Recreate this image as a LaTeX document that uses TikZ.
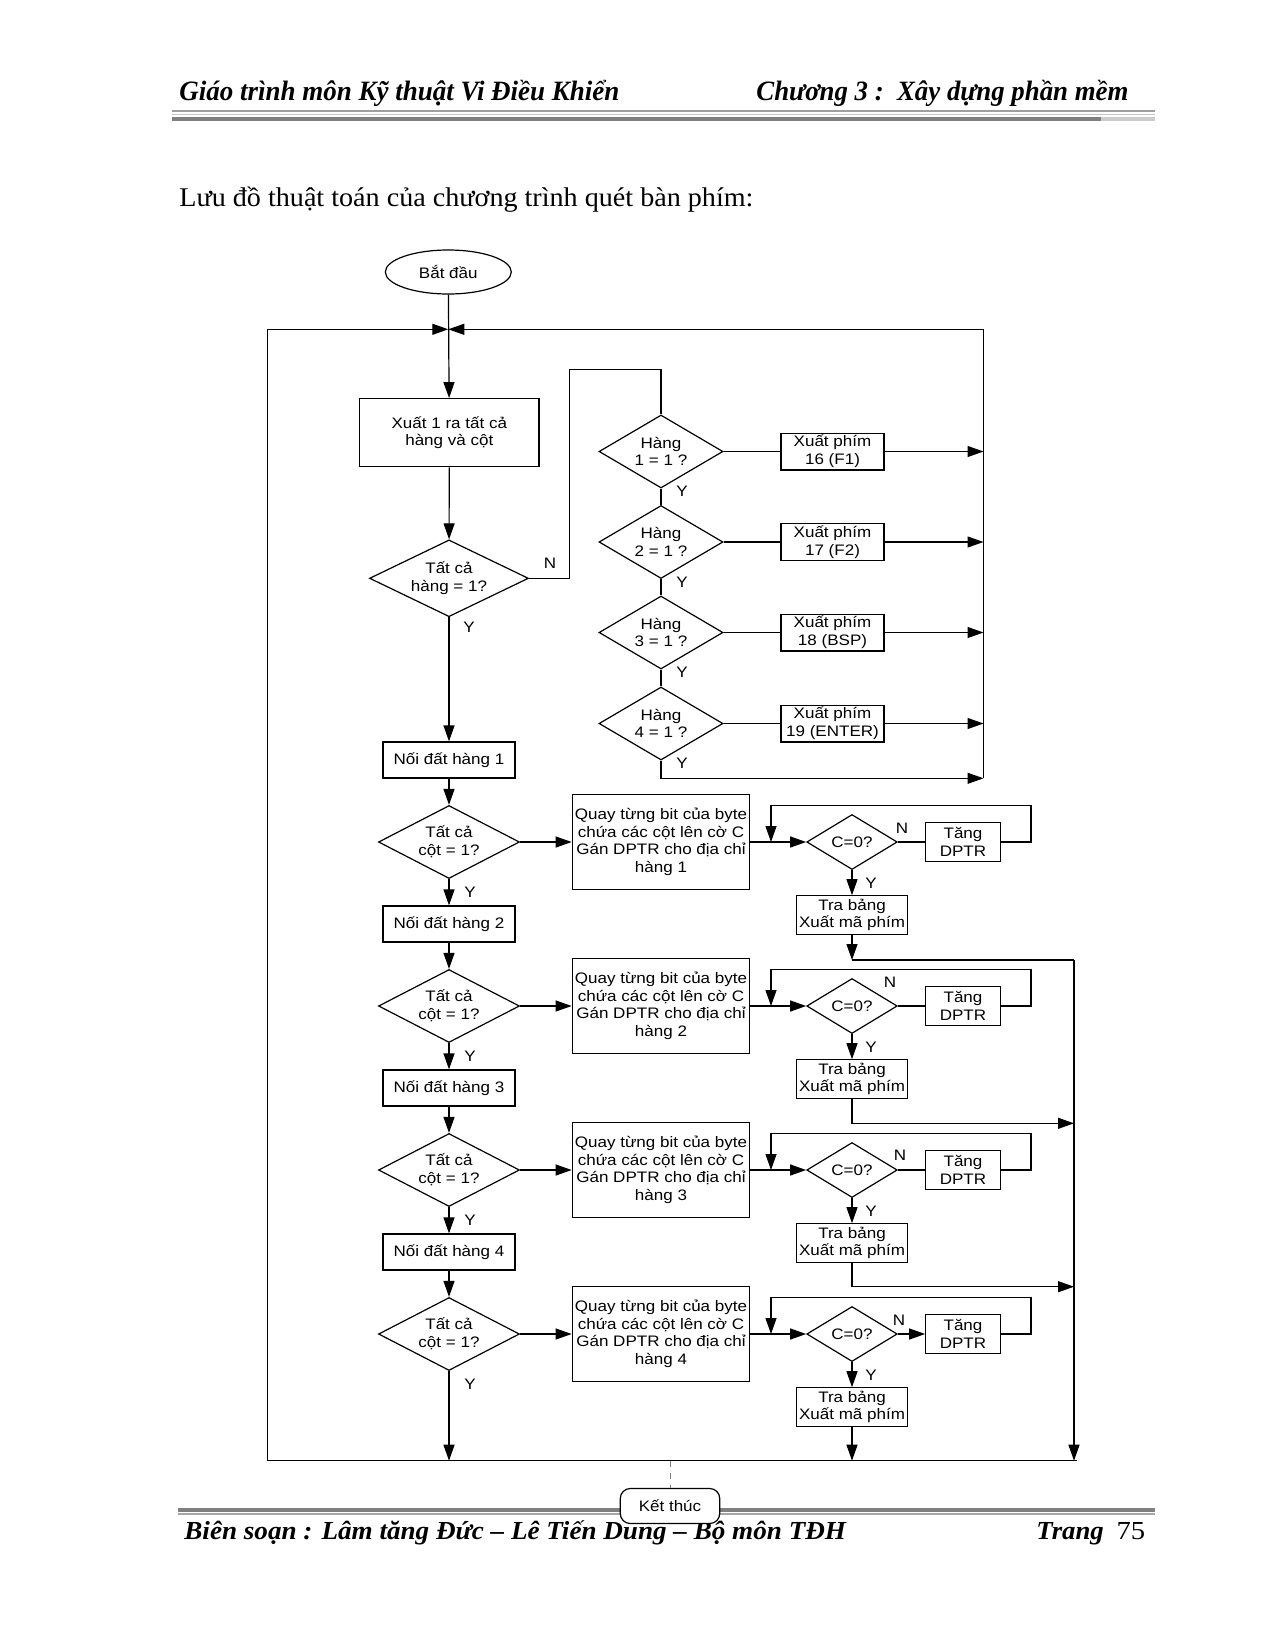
\documentclass[tikz,border=0pt]{standalone}
\usepackage{fontspec}
\usepackage{graphicx}
\usetikzlibrary{shapes.geometric,arrows.meta}
\setmainfont{Liberation Serif}
\newfontfamily\dfont{Liberation Sans}[FakeStretch=1.12]
\tikzset{
  ln/.style={line width=0.6pt},
  arr/.style={ln,-{Triangle[length=8pt,width=5.5pt]}},
  dfnt/.style={font=\dfont\fontsize{7.6}{8.8}\selectfont},
  box/.style={draw,ln,rectangle,inner sep=0pt,align=center,dfnt,fill=white},
  dia/.style={draw,ln,diamond,inner sep=0pt,align=center,dfnt},
  lab/.style={inner sep=0pt,dfnt}
}
\begin{document}
\begin{tikzpicture}[x=0.5pt,y=-0.5pt]
\useasboundingbox (0,0) rectangle (1274,1649);
% header
\node[anchor=base west,inner sep=0pt] (h1txt) at (179,100.7) {\resizebox{220pt}{\height}{\fontsize{14}{16}\selectfont\bfseries\itshape Giáo trình môn Kỹ thuật Vi Điều Khiển}};
\node[anchor=base west,inner sep=0pt] (h2txt) at (756,100.7) {\resizebox{186pt}{\height}{\fontsize{14}{16}\selectfont\bfseries\itshape Chương 3 :\ \ Xây dựng phần mềm}};
\fill[gray!75] (171.5,110.2) rectangle (1155,111.8);
\fill[gray!45] (171.5,114) rectangle (1155,115.4);
\fill[gray] (171.5,116.7) rectangle (1100.7,120.7);
\fill[gray!40] (1100.7,116.7) rectangle (1155,120.7);
\node[anchor=base west,inner sep=0pt] (intro) at (179,206) {\resizebox{287pt}{\height}{\fontsize{13.5}{15}\selectfont Lưu đồ thuật toán của chương trình quét bàn phím:}};
% footer
\fill[gray] (177.9,1507.7) rectangle (1155,1511.7);
\fill[gray!70] (177.9,1513.3) rectangle (1155,1514.7);
\node[anchor=base west,inner sep=0pt] (ftxt) at (184,1539.5) {\resizebox{330.8pt}{\height}{\fontsize{13}{15}\selectfont\bfseries\itshape Biên soạn : Lâm tăng Đức – Lê Tiến Dung – Bộ môn TĐH}};
\node[anchor=base west,inner sep=0pt] (trang) at (1036,1539.5) {\resizebox{33.7pt}{\height}{\fontsize{13}{15}\selectfont\bfseries\itshape Trang}};
\node[anchor=base east,inner sep=0pt] (pg) at (1145.6,1539.5) {\resizebox{14.3pt}{\height}{\fontsize{13}{15}\selectfont 75}};

% top part
\node[draw,ln,ellipse,minimum width=63pt,minimum height=22pt,inner sep=0pt,dfnt] (start) at (448.3,272) {Bắt đầu};
\coordinate (J) at (448.3,329.3);
\coordinate (tlc) at (267.7,329.3);
\coordinate (blc) at (267.7,1460.7);
\coordinate (brc) at (1077,1460.7);
\coordinate (r1t) at (983.5,329.3);
\coordinate (r1b) at (983.5,778.3);
\coordinate (rt) at (1074,960);
\coordinate (rb) at (1074,1460.7);
\coordinate (nA) at (569.6,369.3);

\node[box,minimum width=89.7pt,minimum height=34pt] (b1) at (449.3,432.7) {Xuất 1 ra tất cả\\hàng và cột};
\node[dia,aspect=2.07,minimum width=79.5pt,minimum height=38.4pt] (d1) at (449,578.3) {Tất cả\\hàng = 1?};
\draw[arr] (start) -- (b1);
\draw[arr] (b1) -- (d1);
\node[lab] (nlab) at (550,563) {N};
\node[lab] (ylab) at (469,627) {Y};

\foreach \r/\y/\t in {1/451.5/16 (F1),2/542/17 (F2),3/632.5/18 (BSP),4/723.5/19 (ENTER)}{
  \node[dia,aspect=1.7,minimum width=62pt,minimum height=36.5pt] (h\r) at (661,\y) {Hàng\\\r{} = 1 ?};
  \node[box,minimum width=51.5pt,minimum height=18.4pt] (x\r) at (832.5,\y) {Xuất phím\\\t};
  \draw[ln] (h\r) -- (x\r);
  \draw[arr] (x\r.east) -- (x\r.east -| r1t);
  \node[lab] at (682,\y+40) {Y};
}
\draw[ln] (h1) -- (h2);
\draw[ln] (h2) -- (h3);
\draw[ln] (h3) -- (h4);
\draw[ln] (d1.east) -| (nA) -| (h1.north);
\draw[arr] (h4.south) |- (r1b);
\draw[arr] (r1b) -- (r1t) -- (J);

% rows
\foreach \r/\y in {1/842,2/1006,3/1170,4/1334}{
  \node[box,minimum width=66pt,minimum height=18pt] (nd\r) at (449,\y-82) {Nối đất hàng \r};
  \node[dia,aspect=1.93,minimum width=70.5pt,minimum height=36.5pt] (c\r) at (449,\y) {Tất cả\\cột = 1?};
  \node[box,minimum width=88.75pt,minimum height=47.5pt] (q\r) at (661,\y) {Quay từng bit của byte\\chứa các cột lên cờ C\\Gán DPTR cho địa chỉ\\hàng \r};
  \node[dia,aspect=1.65,minimum width=45.25pt,minimum height=27.5pt] (z\r) at (852,\y) {C=0?};
  \node[box,minimum width=37.25pt,minimum height=19.2pt] (t\r) at (963,\y) {Tăng\\DPTR};
  \node[box,minimum width=55.5pt,minimum height=19.2pt] (m\r) at (852,\y+73) {Tra bảng\\Xuất mã phím};
  \coordinate (j\r) at (771,\y);
  \coordinate (lt\r) at (1031,\y-36.5);
  \draw[arr] (nd\r) -- (c\r);
  \draw[arr] (c\r) -- (q\r);
  \draw[arr] (q\r) -- (z\r);
  \draw[arr] (z\r) -- (m\r);
  \draw[arr] (t\r.east) -| (lt\r) -| (j\r);
  \node[lab] at (470,\y+50) {Y};
  \node[lab] at (871,\y+41) {Y};
}
\draw[arr] (d1) -- (nd1);
\draw[arr] (c1) -- (nd2);
\draw[arr] (c2) -- (nd3);
\draw[arr] (c3) -- (nd4);
\draw[ln] (z1) -- (t1);
\draw[ln] (z2) -- (t2);
\draw[ln] (z3) -- (t3);
\draw[arr] (z4) -- (t4);
\node[lab] at (902,828) {N};
\node[lab] at (890,982) {N};
\node[lab] at (900,1155) {N};
\node[lab] at (899,1320) {N};

% outputs
\coordinate (o2) at (1074,1123.3);
\coordinate (o3) at (1074,1286.7);
\draw[arr] (m1.south) -- (m1.south |- rt);
\draw[ln] (m1.south |- rt) -- (rt);
\draw[arr] (rt) -- (rb);
\draw[arr] (m2.south) |- (o2);
\draw[arr] (m3.south) |- (o3);
\draw[arr] (m4.south) -- (m4.south |- rb);
\draw[arr] (c4.south) -- (c4.south |- rb);
\draw[arr] (brc) -- (blc) -- (tlc) -- (J);

% end
\node[draw,ln,rectangle,rounded corners=5pt,fill=white,minimum width=49.75pt,minimum height=17.5pt,inner sep=0pt,dfnt] (kt) at (670,1506) {Kết thúc};
\draw[dashed,gray,line width=0.5pt] (kt.north |- rb) -- (kt.north);
\end{tikzpicture}
\end{document}
